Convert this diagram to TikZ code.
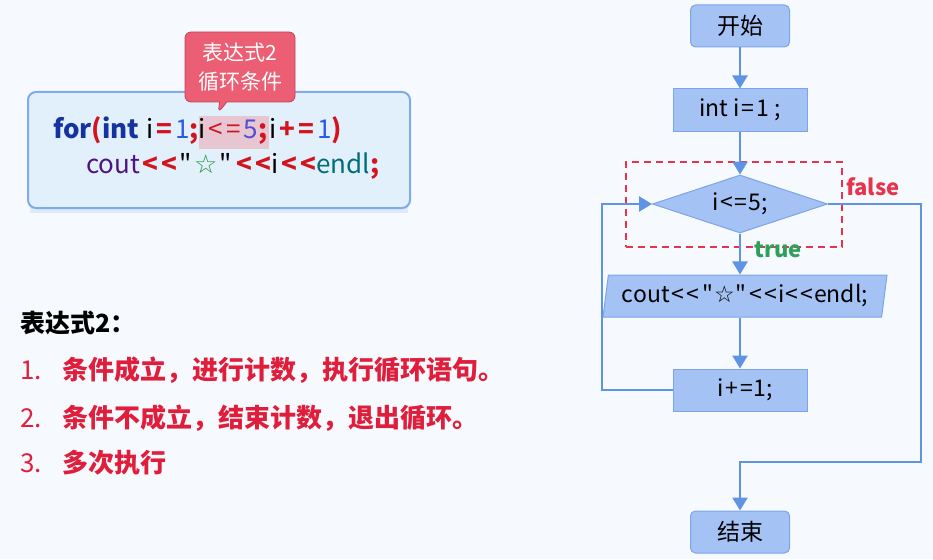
\documentclass[tikz,border=0pt]{standalone}
\usepackage{fontspec}
\setmainfont{Noto Sans CJK SC}[Ligatures=TeXOff]
\newfontfamily\symf{DejaVu Sans}
\usetikzlibrary{shapes.geometric,shapes.callouts,arrows.meta}
\definecolor{bg}{RGB}{246,250,254}
\definecolor{boxfill}{RGB}{164,194,244}
\definecolor{boxline}{RGB}{122,165,235}
\definecolor{flowc}{RGB}{95,148,228}
\definecolor{codefill}{RGB}{226,240,251}
\definecolor{codeline}{RGB}{127,172,232}
\definecolor{callfill}{RGB}{236,94,115}
\definecolor{callline}{RGB}{190,70,90}
\definecolor{dashred}{RGB}{232,51,74}
\definecolor{txtred}{RGB}{224,30,60}
\definecolor{truegreen}{RGB}{46,160,90}
\definecolor{kw}{RGB}{20,50,160}
\definecolor{op}{RGB}{210,20,30}
\definecolor{num}{RGB}{40,90,230}
\definecolor{numb}{RGB}{80,80,210}
\definecolor{coutc}{RGB}{80,20,130}
\definecolor{endlc}{RGB}{0,110,120}
\definecolor{starc}{RGB}{40,150,60}
\definecolor{hl}{RGB}{231,198,210}
\newcommand{\opsp}{\hspace{3pt}}
\newcommand{\opr}[1]{{\color{op}\bfseries #1}}
\begin{document}
\begin{tikzpicture}[x=1pt,y=-1pt,
  every node/.style={inner sep=0pt},
  term/.style={draw=boxline,fill=boxfill,line width=1pt,rounded corners=5pt,minimum width=99pt,minimum height=42pt,font=\fontsize{23}{26}\selectfont},
  proc/.style={draw=boxline,fill=boxfill,line width=1pt,minimum width=134pt,minimum height=42pt,font=\fontsize{23}{26}\selectfont},
  dia/.style={draw=boxline,fill=boxfill,line width=1pt,diamond,aspect=3,minimum width=175pt,minimum height=58pt,font=\fontsize{23}{26}\selectfont},
  io/.style={draw=boxline,fill=boxfill,line width=1pt,trapezium,trapezium left angle=76.6,trapezium right angle=103.4,trapezium stretches body,minimum width=284pt,minimum height=42pt,font=\fontsize{23}{26}\selectfont},
  flow/.style={draw=flowc,line width=2.5pt,-{Triangle[length=13pt,width=15pt]}},
  listtxt/.style={anchor=west,text=txtred,font=\fontsize{26}{30}\selectfont},
]
\useasboundingbox (0,0) rectangle (933,559);
\fill[bg] (0,0) rectangle (933,559);

% ---------- code box ----------
\fill[codeline!25] (30,200) rectangle (408,213);
\node[draw=codeline,fill=codefill,line width=2pt,rounded corners=8pt,minimum width=382pt,minimum height=116pt] (code) at (219,150) {};
\node[rectangle callout,draw=callline,fill=callfill,line width=0.8pt,rounded corners=6pt,minimum width=110pt,minimum height=70pt,callout absolute pointer={(218,113)},align=center,text=white,font=\fontsize{21}{29}\selectfont] (call) at (240,67) {表达式2\\循环条件};

\setlength{\fboxsep}{0pt}
\node[anchor=base west,font=\fontsize{26}{30}\selectfont] (line1) at (53,138)
 {{\color{kw}\bfseries for}\opr{(}{\color{kw}\bfseries int}\hspace{7pt}i\opsp\opr{=}\opsp{\color{num}1}\opr{;}\colorbox{hl}{\rule[-11pt]{0pt}{33pt}i\opsp{\color{op}<}\opsp{\color{op}=}\opsp{\color{numb}5}\opr{;}\hspace{2pt}}i\opsp\opr{+}\opsp\opr{=}\opsp{\color{num}1}\opr{)}};
\node[anchor=base west,font=\fontsize{26}{30}\selectfont] (line2) at (86,173)
 {{\color{coutc}cout}\hspace{2pt}\opr{<\opsp<}\opsp"\hspace{2pt}{\symf\color{starc}☆}\hspace{2pt}"\hspace{5pt}\opr{<\opsp<}i\opsp\opr{<\opsp<}{\color{endlc}endl}\opr{;}};

% ---------- left text ----------
\node[anchor=west,font=\bfseries\fontsize{25}{28}\selectfont] (t0) at (20,323) {表达式2：};
\node[listtxt] (t1) at (20,370) {\makebox[42pt][l]{1.}\bfseries 条件成立，进行计数，执行循环语句。};
\node[listtxt] (t2) at (20,418) {\makebox[42pt][l]{2.}\bfseries 条件不成立，结束计数，退出循环。};
\node[listtxt] (t3) at (20,463) {\makebox[42pt][l]{3.}\bfseries 多次执行};

% ---------- flowchart ----------
\node[term] (start) at (740,26) {开始};
\node[proc] (init) at (740,110) {int i\hspace{2pt}=\hspace{2pt}1\hspace{5pt};};
\node[dia] (cond) at (740,204) {i\hspace{2pt}<\hspace{1pt}=\hspace{1pt}5;};
\node[io] (out) at (745,296) {cout\hspace{2pt}<\hspace{2pt}<\hspace{3pt}"\hspace{1pt}{\symf ☆}\hspace{1pt}"\hspace{3pt}<\hspace{2pt}<\hspace{1pt}i\hspace{1pt}<\hspace{2pt}<\hspace{1pt}endl;};
\node[proc] (inc) at (740,390) {\hspace{10pt}i\hspace{2pt}+\hspace{2pt}=\hspace{1pt}1;};
\node[term] (stop) at (740,532) {结束};
\node[draw=dashred,dashed,line width=1.5pt,dash pattern=on 7pt off 5pt,minimum width=216pt,minimum height=85pt] (sel) at (734,204.5) {};
\node[anchor=west,text=dashred,font=\bfseries\fontsize{22}{26}\selectfont] (fl) at (846,187) {false};
\node[anchor=west,text=truegreen,font=\bfseries\fontsize{22}{26}\selectfont] (tr) at (754,250) {true};

\coordinate (lp) at (602,204);
\coordinate (fr) at (921,462);
\coordinate (ax) at (740,0);
\draw[flow] (start) -- (init);
\draw[flow] (init) -- (cond);
\draw[flow] (ax |- cond.south) -- (ax |- out.north);
\draw[flow] (ax |- out.south) -- (inc.north);
\draw[flow] (inc.west) -| (lp) -- (cond.west);
\draw[flow] (cond.east) -| (fr) -| (stop.north);
\end{tikzpicture}
\end{document}
